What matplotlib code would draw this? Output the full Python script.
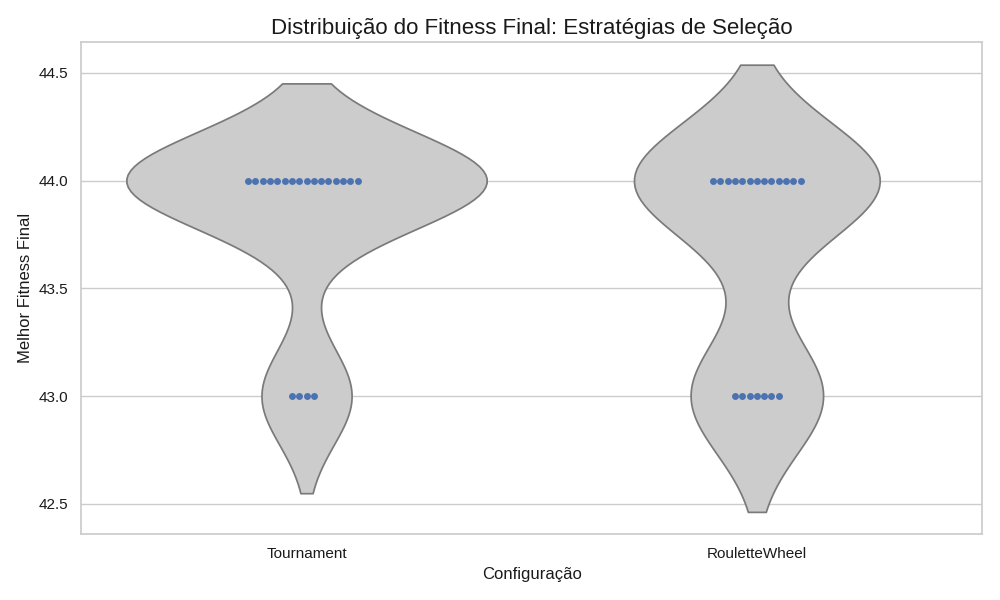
import matplotlib
matplotlib.use("Agg")
import matplotlib.pyplot as plt
import seaborn as sns
import pandas as pd

# final best fitness per run
tournament = [44.0] * 16 + [43.0] * 4
roulette = [44.0] * 13 + [43.0] * 7
configs = ["Tournament", "RouletteWheel"]

df = pd.DataFrame({
    "Configuração": [configs[0]] * len(tournament) + [configs[1]] * len(roulette),
    "Melhor Fitness Final": tournament + roulette,
})

sns.set_theme(style="whitegrid")
plt.rcParams["font.family"] = ["Liberation Sans", "DejaVu Sans"]
plt.rcParams["text.color"] = "#1a1a1a"
plt.rcParams["axes.labelcolor"] = "#1a1a1a"
plt.rcParams["xtick.color"] = "#1a1a1a"
plt.rcParams["ytick.color"] = "#1a1a1a"
plt.figure(figsize=(10, 6))

sns.violinplot(data=df, x="Configuração", y="Melhor Fitness Final",
               inner=None, color="#cccccc", saturation=1)
sns.swarmplot(data=df, x="Configuração", y="Melhor Fitness Final",
              color="#4c72b0", size=5)

plt.title("Distribuição do Fitness Final: Estratégias de Seleção", fontsize=16)
plt.tight_layout()
plt.savefig("out.png", dpi=100)
